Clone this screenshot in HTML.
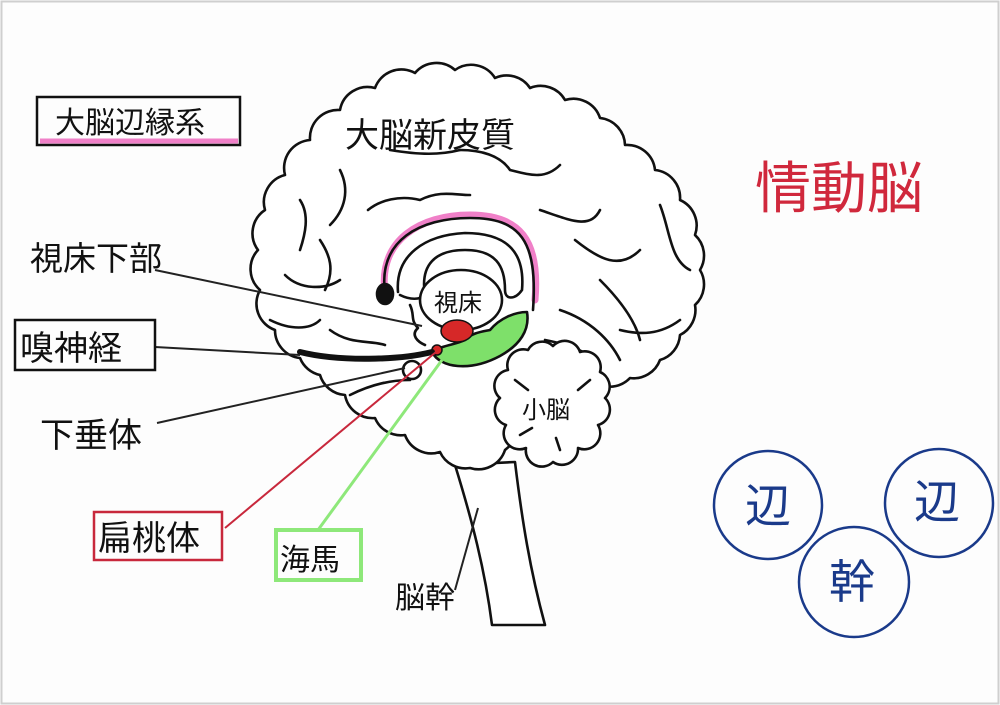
<!DOCTYPE html>
<html><head><meta charset="utf-8"><style>
html,body{margin:0;padding:0;background:#fff;}
svg{display:block}
text{font-family:"Liberation Sans","Noto Sans CJK JP",sans-serif;}
</style></head><body>
<svg width="1000" height="705" viewBox="0 0 1000 705" xmlns="http://www.w3.org/2000/svg">
<rect x="0" y="0" width="1000" height="705" fill="#fdfdfd"/>
<rect x="1.5" y="1.5" width="997" height="702" fill="none" stroke="#cfcfcf" stroke-width="2"/>
<g fill="none" stroke="#111" stroke-width="2.6" stroke-linecap="round" stroke-linejoin="round">
<path d="M455,465 C472,520 485,570 492,625 L545,625 C530,570 522,520 515,462 Z" fill="#fff"/>
<path fill="#fff" d="M300,358 A28,28 0 0 1 275,330 A28,28 0 0 1 260,290 A28,28 0 0 1 258,250 A28,28 0 0 1 265,210 A28,28 0 0 1 285,175 A28,28 0 0 1 310,140 A28,28 0 0 1 340,110 A28,28 0 0 1 375,88 A28,28 0 0 1 415,73 A28,28 0 0 1 455,70 A28,28 0 0 1 495,78 A28,28 0 0 1 530,88 A28,28 0 0 1 565,100 A28,28 0 0 1 600,118 A28,28 0 0 1 625,145 A28,28 0 0 1 655,170 A28,28 0 0 1 680,200 A28,28 0 0 1 695,235 A28,28 0 0 1 700,270 A28,28 0 0 1 695,305 A28,28 0 0 1 680,335 A28,28 0 0 1 660,360 A28,28 0 0 1 630,378 A28,28 0 0 1 600,385 L540,420 L505,450 A28,28 0 0 1 470,468 A28,28 0 0 1 440,452 A28,28 0 0 1 405,435 A28,28 0 0 1 375,418 A28,28 0 0 1 345,395 A28,28 0 0 1 320,375 A28,28 0 0 1 300,358 Z"/>
<path d="M300,200 C310,215 305,235 300,250"/>
<path d="M285,275 C300,290 325,290 340,280"/>
<path d="M320,240 C330,255 335,270 325,290"/>
<path d="M270,320 C290,330 310,330 320,320"/>
<path d="M340,170 C350,190 345,210 330,225"/>
<path d="M368,210 C380,200 400,195 420,200 C440,190 455,195 470,195"/>
<path d="M390,150 C420,155 440,155 460,150"/>
<path d="M460,150 C480,150 500,155 510,170 C530,175 545,180 560,165"/>
<path d="M540,210 C570,220 590,230 600,210"/>
<path d="M575,240 C600,260 620,270 640,250"/>
<path d="M600,280 C620,300 635,320 640,340"/>
<path d="M560,310 C590,320 610,340 620,360"/>
<path d="M545,340 C570,345 585,350 600,365"/>
<path d="M660,205 C670,230 670,260 690,270"/>
<path d="M620,330 C640,335 660,335 680,320"/>
<path d="M330,330 C350,345 370,340 385,345"/>
<path d="M350,395 C370,385 390,380 410,380"/>
<path d="M385,293 C378,240 420,215 470,215 C520,215 540,240 535,300" stroke="#f080c8" stroke-width="7"/>
<path d="M385,293 C378,240 420,218 470,218 C520,218 538,240 533,310"/>
<path d="M398,292 C395,255 425,235 465,233 C510,233 525,255 522,290 C515,300 505,300 505,290 C505,265 495,250 465,250 C435,250 420,265 425,295 C420,300 410,300 400,295"/>
<ellipse cx="385" cy="294" rx="8" ry="10" fill="#111"/>
<ellipse cx="461" cy="300" rx="41" ry="30" fill="#fff"/>
<path d="M432,352 C440,368 470,372 500,356 C520,345 530,330 527,312 C515,312 500,318 490,330 C480,332 472,333 465,340 C455,345 442,345 432,352 Z" fill="#7ee06a"/>
<ellipse cx="457" cy="331" rx="16" ry="11" fill="#d62828" stroke-width="1.5"/>
<circle cx="437" cy="350" r="5" fill="#d62828" stroke-width="1.5"/>
<path d="M410,305 C415,315 410,320 418,328 C410,335 418,342 425,345"/>
<path d="M300,352 C340,362 400,360 432,352" stroke-width="6"/>
<circle cx="412" cy="370" r="9" fill="#fff"/>
<path fill="#fff" d="M553,346 A16,16 0 0 1 580,352 A16,16 0 0 1 600,372 A16,16 0 0 1 605,398 A16,16 0 0 1 598,425 A16,16 0 0 1 578,448 A16,16 0 0 1 553,462 A16,16 0 0 1 526,448 A16,16 0 0 1 506,425 A16,16 0 0 1 500,398 A16,16 0 0 1 508,370 A16,16 0 0 1 528,350 A16,16 0 0 1 553,346 Z"/>
<path d="M515,380 L528,390 M590,380 L578,390 M560,450 L556,438 M520,435 L532,428"/>
</g>
<g fill="none" stroke-width="2">
<line x1="155" y1="270" x2="422" y2="326" stroke="#222"/>
<line x1="155" y1="347" x2="300" y2="355" stroke="#222"/>
<line x1="157" y1="423" x2="405" y2="368" stroke="#222"/>
<line x1="225" y1="528" x2="436" y2="352" stroke="#c8283c"/>
<line x1="318" y1="530" x2="442" y2="360" stroke="#8ee87a" stroke-width="3"/>
<line x1="455" y1="590" x2="478" y2="508" stroke="#222"/>
</g>
<rect x="37" y="97" width="203" height="48" fill="none" stroke="#111" stroke-width="2.5"/>
<line x1="40" y1="141" x2="238" y2="141" stroke="#f080c8" stroke-width="5"/>
<rect x="15" y="320" width="140" height="50" fill="none" stroke="#111" stroke-width="2.5"/>
<rect x="94" y="512" width="128" height="48" fill="none" stroke="#c8283c" stroke-width="2.5"/>
<rect x="276" y="530" width="85" height="50" fill="none" stroke="#8ee87a" stroke-width="4"/>
<g fill="#111" font-size="30">
<text x="55" y="133">大脳辺縁系</text>
<text x="345" y="147" font-size="34">大脳新皮質</text>
<text x="30" y="270" font-size="33">視床下部</text>
<text x="20" y="360" font-size="34">嗅神経</text>
<text x="40" y="447" font-size="34">下垂体</text>
<text x="98" y="550" font-size="34">扁桃体</text>
<text x="280" y="570" font-size="30">海馬</text>
<text x="395" y="608" font-size="30">脳幹</text>
<text x="434" y="311" font-size="24">視床</text>
<text x="522" y="418" font-size="24">小脳</text>
</g>
<text x="755" y="208" font-size="56" fill="#d0283c">情動脳</text>
<g fill="none" stroke="#1a3a8a" stroke-width="2.5">
<circle cx="768" cy="505" r="54"/>
<circle cx="939" cy="503" r="54"/>
<circle cx="854" cy="582" r="55"/>
</g>
<g fill="#1a3a8a" font-size="46">
<text x="745" y="522">辺</text>
<text x="914" y="518">辺</text>
<text x="829" y="598">幹</text>
</g>
</svg>
</body></html>
